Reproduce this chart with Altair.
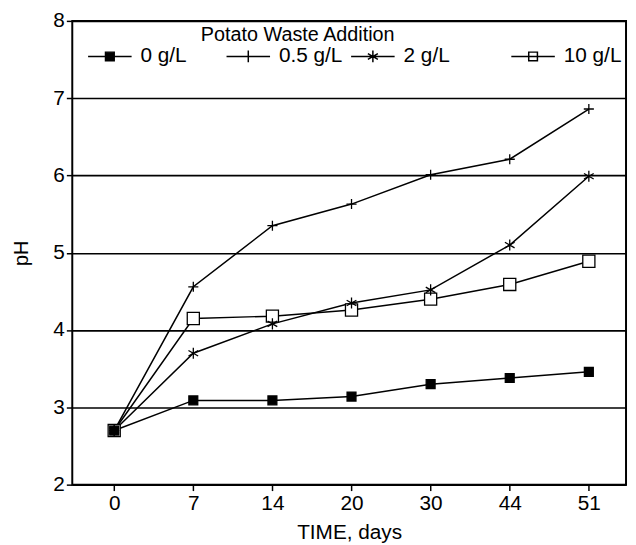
import altair as alt
import pandas as pd

# ---- data ----
days = [0, 7, 14, 20, 30, 44, 51]
series = ["0 g/L", "0.5 g/L", "2 g/L", "10 g/L"]
ph_0 = [2.70, 3.09, 3.09, 3.14, 3.30, 3.38, 3.46]
ph_05 = [2.70, 4.56, 5.35, 5.63, 6.01, 6.21, 6.86]
ph_2 = [2.70, 3.70, 4.08, 4.35, 4.52, 5.10, 5.99]
ph_10 = [2.70, 4.15, 4.18, 4.26, 4.40, 4.59, 4.89]
y_ticks = [2, 3, 4, 5, 6, 7, 8]
legend_title = ["Potato Waste Addition"]

rows = []
for k, (s, vals) in enumerate(zip(series, [ph_0, ph_05, ph_2, ph_10])):
    for i, (d, v) in enumerate(zip(days, vals)):
        rows.append({"Series": s, "idx": i, "day": d, "pH": v, "draw": len(series) - k})
df = pd.DataFrame(rows)
title_df = pd.DataFrame({"t": legend_title})

# ---- styling ----
FONT = "Liberation Sans"
marker_paths = [
    "M-1,-1H1V1H-1Z",
    "M-1,0H1M0,-1V1",
    "M0,-1V1M-0.87,-0.5L0.87,0.5M-0.87,0.5L0.87,-0.5",
    "M-1,-1H1V1H-1Z",
]
legend_paths = [
    "M-1,0H1M-0.2,-0.2H0.2V0.2H-0.2Z",
    "M-1,0H1M0,-0.27V0.27",
    "M-1,0H1M0,-0.27V0.27M-0.23,-0.13L0.23,0.13M-0.23,0.13L0.23,-0.13",
    "M-1,0H1M-0.2,-0.2H0.2V0.2H-0.2Z",
]
fills = ["black", "white", "white", "white"]
strokes = ["black", "black", "black", "black"]
sizes = [81, 150, 150, 90]

label_map = "[" + ",".join("'%d'" % d for d in days) + "][datum.value]"

x_enc = alt.X(
    "idx:Q",
    scale=alt.Scale(domain=[-0.53, 6.47], nice=False, zero=False),
    axis=alt.Axis(
        values=list(range(len(days))), labelExpr=label_map, title="TIME, days",
        grid=False, domain=False, tickColor="black", tickSize=6, tickWidth=1.5,
        labelFontSize=21, labelFont=FONT, labelColor="black", labelPadding=2,
        titleFontSize=21, titleFont=FONT, titleFontWeight="normal", titleColor="black",
        titlePadding=8,
    ),
)
y_enc = alt.Y(
    "pH:Q",
    scale=alt.Scale(domain=[2, 8], nice=False, zero=False),
    axis=alt.Axis(
        values=y_ticks, title="pH", grid=True, gridColor="black", gridWidth=1.6,
        gridOpacity=1, domain=False, tickColor="black", tickSize=6, tickWidth=1.5,
        labelFontSize=21, labelFont=FONT, labelColor="black", labelPadding=2,
        titleFontSize=20, titleFont=FONT, titleFontWeight="normal", titleColor="black",
        titlePadding=22,
    ),
)

lines = alt.Chart(df).mark_line(color="black", strokeWidth=1.5).encode(
    x=x_enc, y=y_enc, detail="Series:N"
)

points = alt.Chart(df).mark_point(
    filled=False, stroke="black", strokeWidth=1.3, opacity=1
).encode(
    x=x_enc, y=y_enc,
    shape=alt.Shape("Series:N", scale=alt.Scale(domain=series, range=marker_paths), legend=None),
    fill=alt.Fill("Series:N", scale=alt.Scale(domain=series, range=fills), legend=None),
    size=alt.Size("Series:N", scale=alt.Scale(domain=series, range=sizes), legend=None),
    order=alt.Order("draw:Q"),
)


def legend_part(sub, legend_x, col_pad):
    idx = [series.index(s) for s in sub]
    leg = alt.Legend(
        title=None, orient="none", legendX=legend_x, legendY=13, direction="horizontal",
        symbolSize=1936, symbolStrokeWidth=1.5, symbolStrokeColor="black", symbolOpacity=1,
        labelFontSize=21, labelFont=FONT, labelColor="black", labelOffset=8,
        columnPadding=col_pad, padding=0, labelLimit=0,
    )
    return alt.Chart(df).transform_filter(
        alt.FieldOneOfPredicate(field="Series", oneOf=sub)
    ).mark_point(filled=False, strokeWidth=1.5, opacity=0, size=1936).encode(
        x=x_enc, y=y_enc,
        shape=alt.Shape("Series:N", scale=alt.Scale(domain=sub, range=[legend_paths[i] for i in idx]), legend=leg),
        fill=alt.Fill("Series:N", scale=alt.Scale(domain=sub, range=[fills[i] for i in idx]), legend=leg),
        stroke=alt.Stroke("Series:N", scale=alt.Scale(domain=sub, range=[strokes[i] for i in idx]), legend=leg),
    )


legend_a = legend_part(series[:2], 15, 37)
legend_b = legend_part(series[2:], 281, 59)

legend_title_layer = alt.Chart(title_df).mark_text(
    font=FONT, fontSize=20, color="black", align="center", baseline="alphabetic"
).encode(text="t:N", x=alt.value(228), y=alt.value(20))

chart = (
    alt.layer(lines, points, legend_a, legend_b, legend_title_layer)
    .resolve_scale(shape="independent", fill="independent", size="independent",
                   stroke="independent")
    .properties(
        width=560, height=469,
        autosize=alt.AutoSizeParams(type="none"),
        padding={"left": 65, "top": 10, "right": 2, "bottom": 58},
    )
    .configure_view(stroke="black", strokeWidth=2)
)

chart.save("out.html", embed_options={"renderer": "svg", "actions": False})
